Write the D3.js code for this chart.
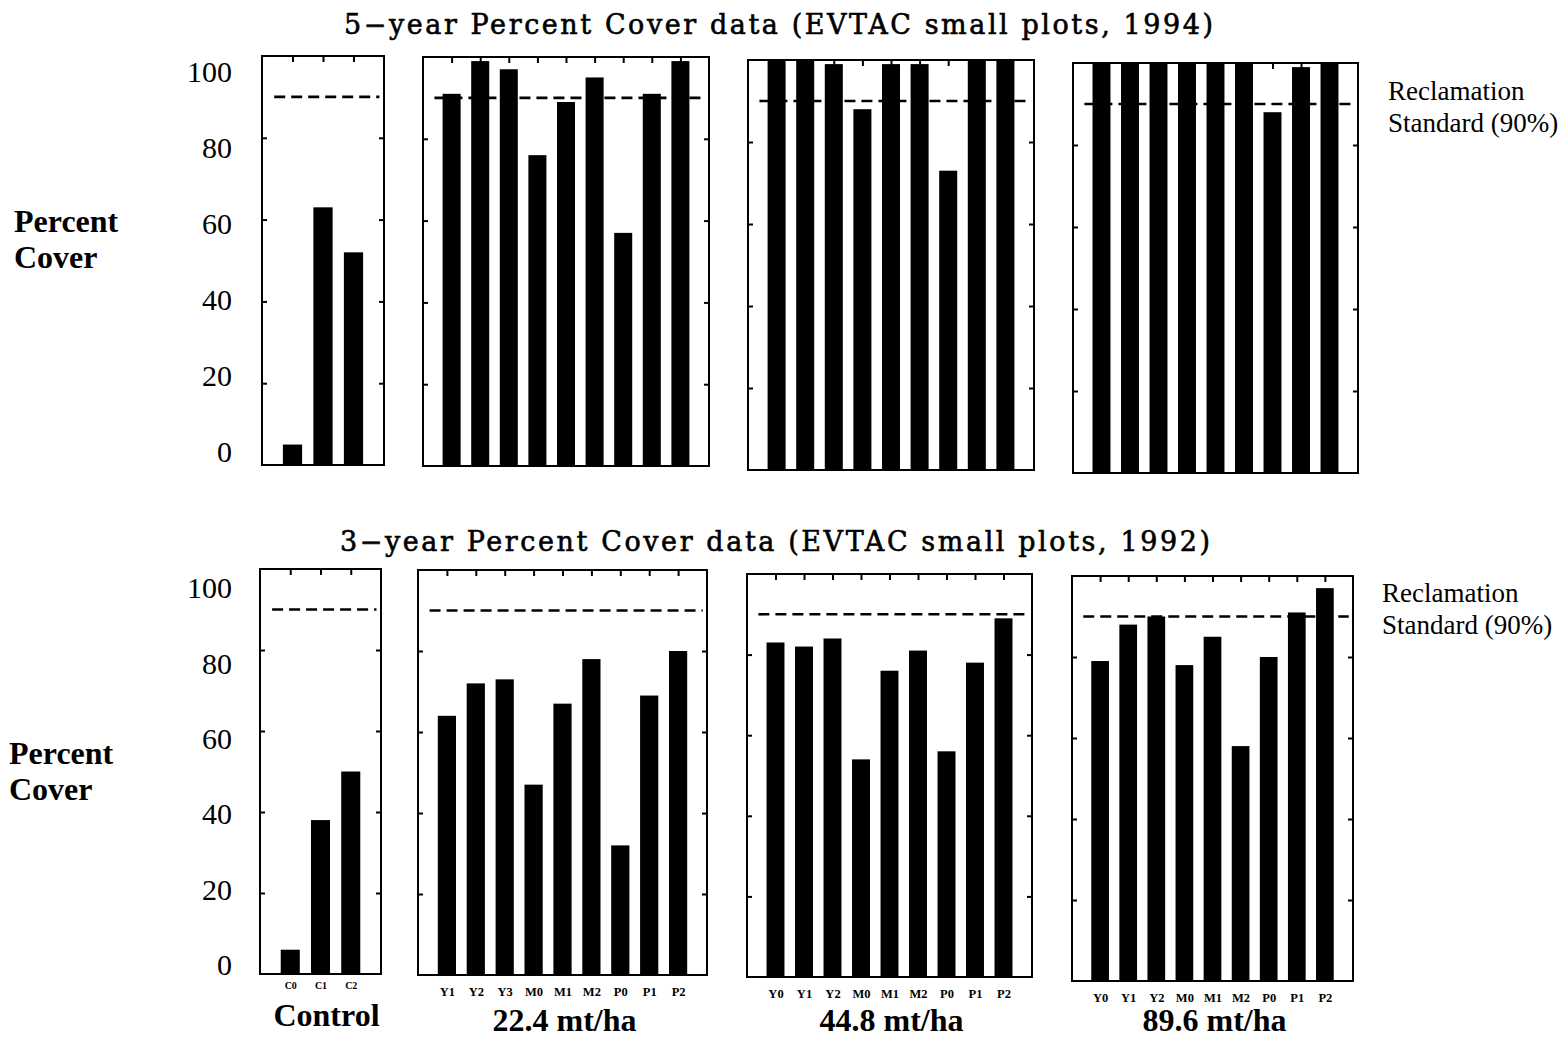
<!DOCTYPE html>
<html>
<head>
<meta charset="utf-8">
<script src="https://cdn.jsdelivr.net/npm/d3@7"></script>
<style>
  body { margin: 0; background: #fff; }
  svg { display: block; }
</style>
</head>
<body>
<div id="chart"></div>
<script>
// treatment codes per amendment rate
const controlCats = ['C0', 'C1', 'C2'];
const cats224 = ['Y1', 'Y2', 'Y3', 'M0', 'M1', 'M2', 'P0', 'P1', 'P2'];
const cats448 = ['Y0', 'Y1', 'Y2', 'M0', 'M1', 'M2', 'P0', 'P1', 'P2'];
const cats896 = ['Y0', 'Y1', 'Y2', 'M0', 'M1', 'M2', 'P0', 'P1', 'P2'];
const groupLabels = ['Control', '22.4 mt/ha', '44.8 mt/ha', '89.6 mt/ha'];

// 5-year percent cover (1994)
const cover1994Control = [5, 63, 52];
const cover1994_224 = [91, 99, 97, 76, 89, 95, 57, 91, 99];
const cover1994_448 = [100, 100, 99, 88, 99, 99, 73, 100, 100];
const cover1994_896 = [100, 100, 100, 100, 100, 100, 88, 99, 100];

// 3-year percent cover (1992)
const cover1992Control = [6, 38, 50];
const cover1992_224 = [64, 72, 73, 47, 67, 78, 32, 69, 80];
const cover1992_448 = [83, 82, 84, 54, 76, 81, 56, 78, 89];
const cover1992_896 = [79, 88, 90, 78, 85, 58, 80, 91, 97];

const reclamationStandard = 90;
const yTickLabels = [0, 20, 40, 60, 80, 100];
const innerTicks = [20, 40, 60, 80];
const titles = [
  '5\u2212year Percent Cover data (EVTAC small plots, 1994)',
  '3\u2212year Percent Cover data (EVTAC small plots, 1992)'
];

const W = 1568, H = 1046;
const svg = d3.select('#chart').append('svg')
  .attr('width', W).attr('height', H)
  .style('background', '#fff');

const serif = '"Liberation Serif", "Times New Roman", serif';

// panel boxes follow the (slightly skewed) scan
const rows = [
  {
    title: titles[0], titleY: 34, titleX: 344, titleLen: 869,
    labelRange: [452, 72], labelX: 232,
    yLabel: { x: 14, y1: 232, y2: 268 },
    std: { x: 1388, y1: 100, y2: 132 },
    showX: false,
    panels: [
      { x0: 262, x1: 384, top: 56, bottom: 465, cats: controlCats, values: cover1994Control },
      { x0: 423, x1: 709, top: 57, bottom: 466, cats: cats224, values: cover1994_224 },
      { x0: 748, x1: 1034, top: 60, bottom: 470, cats: cats448, values: cover1994_448 },
      { x0: 1073, x1: 1358, top: 63, bottom: 473, cats: cats896, values: cover1994_896 }
    ]
  },
  {
    title: titles[1], titleY: 551, titleX: 340, titleLen: 870,
    labelRange: [965, 588], labelX: 232,
    yLabel: { x: 9, y1: 764, y2: 800 },
    std: { x: 1382, y1: 602, y2: 634 },
    showX: true,
    panels: [
      { x0: 260, x1: 381, top: 569, bottom: 974, cats: controlCats, values: cover1992Control },
      { x0: 418, x1: 707, top: 570, bottom: 975, cats: cats224, values: cover1992_224 },
      { x0: 747, x1: 1032, top: 574, bottom: 977, cats: cats448, values: cover1992_448 },
      { x0: 1072, x1: 1353, top: 576, bottom: 981, cats: cats896, values: cover1992_896 }
    ]
  }
];

rows.forEach(row => {
  // title
  svg.append('text')
    .attr('x', row.titleX).attr('y', row.titleY)
    .attr('textLength', row.titleLen)
    .attr('lengthAdjust', 'spacing')
    .style('font-family', '"DejaVu Serif", serif')
    .style('font-size', '27px')
    .attr('stroke', '#000')
    .attr('stroke-width', 0.6)
    .text(row.title);

  // y tick labels (printed slightly off the tick marks in the original)
  const labelY = d3.scaleLinear().domain([0, 100]).range(row.labelRange);
  const yLab = svg.append('g')
    .attr('transform', `translate(${row.labelX},0)`)
    .call(d3.axisLeft(labelY).tickValues(yTickLabels).tickSize(0).tickPadding(0));
  yLab.select('.domain').remove();
  yLab.selectAll('text')
    .style('font-family', serif)
    .style('font-size', '30px')
    .attr('fill', '#000');

  // "Percent Cover"
  const yl = svg.append('text')
    .style('font-family', serif)
    .style('font-size', '32px')
    .style('font-weight', 'bold');
  yl.append('tspan').attr('x', row.yLabel.x).attr('y', row.yLabel.y1).text('Percent');
  yl.append('tspan').attr('x', row.yLabel.x).attr('y', row.yLabel.y2).text('Cover');

  // reclamation standard note
  const st = svg.append('text')
    .style('font-family', serif)
    .style('font-size', '27px');
  st.append('tspan').attr('x', row.std.x).attr('y', row.std.y1).text('Reclamation');
  st.append('tspan').attr('x', row.std.x).attr('y', row.std.y2).text('Standard (90%)');

  row.panels.forEach((p, i) => {
    const x = d3.scalePoint().domain(p.cats).range([p.x0, p.x1]).padding(1);
    const y = d3.scaleLinear().domain([0, 100]).range([p.bottom, p.top]);
    const bw = x.step() * 0.63;
    const g = svg.append('g');

    // 90% standard line
    g.append('line')
      .attr('x1', p.x0 + x.step() * 0.4)
      .attr('x2', p.x1 - x.step() * 0.15)
      .attr('y1', y(reclamationStandard))
      .attr('y2', y(reclamationStandard))
      .attr('stroke', '#000')
      .attr('stroke-width', 2.6)
      .attr('stroke-dasharray', '11,6');

    // bars
    g.selectAll('rect.bar')
      .data(p.values)
      .enter()
      .append('rect')
      .attr('class', 'bar')
      .attr('x', (d, j) => x(p.cats[j]) - bw / 2)
      .attr('y', d => y(d))
      .attr('width', bw)
      .attr('height', d => y(0) - y(d))
      .attr('fill', '#000');

    // inward ticks on left, right and top
    const tl = g.append('g').attr('transform', `translate(${p.x0},0)`)
      .call(d3.axisLeft(y).tickValues(innerTicks).tickSize(-5).tickFormat(''));
    const tr = g.append('g').attr('transform', `translate(${p.x1},0)`)
      .call(d3.axisRight(y).tickValues(innerTicks).tickSize(-5).tickFormat(''));
    const tt = g.append('g').attr('transform', `translate(0,${p.top})`)
      .call(d3.axisTop(x).tickSize(-6).tickFormat(''));
    [tl, tr, tt].forEach(a => {
      a.select('.domain').remove();
      a.selectAll('line').attr('stroke', '#000').attr('stroke-width', 2);
    });

    // frame
    g.append('rect')
      .attr('x', p.x0).attr('y', p.top)
      .attr('width', p.x1 - p.x0).attr('height', p.bottom - p.top)
      .attr('fill', 'none')
      .attr('stroke', '#000')
      .attr('stroke-width', 2);

    if (row.showX) {
      const small = p.cats.length < 5;
      const xb = g.append('g').attr('transform', `translate(0,${p.bottom})`)
        .call(d3.axisBottom(x).tickSize(0).tickPadding(small ? 8 : 12));
      xb.select('.domain').remove();
      xb.selectAll('text')
        .style('font-family', serif)
        .style('font-size', small ? '10px' : '12.5px')
        .style('font-weight', 'bold')
        .attr('fill', '#000');

      svg.append('text')
        .attr('x', (p.x0 + p.x1) / 2 + (i === 0 ? 6 : 2))
        .attr('y', i === 0 ? 1026 : 1031)
        .attr('text-anchor', 'middle')
        .style('font-family', serif)
        .style('font-size', '32px')
        .style('font-weight', 'bold')
        .text(groupLabels[i]);
    }
  });
});
</script>
</body>
</html>
